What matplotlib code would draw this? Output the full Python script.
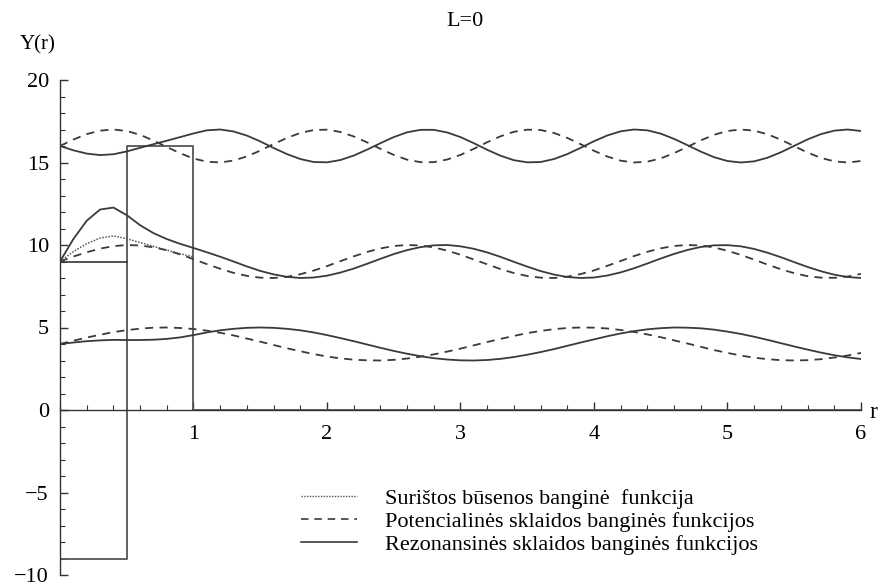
import numpy as np
import matplotlib.pyplot as plt
from matplotlib.ticker import MultipleLocator
from matplotlib.lines import Line2D

plt.rcParams['font.family'] = ['Liberation Serif', 'DejaVu Serif']

# r grid (step 0.1) and the read-off curves
r = np.round(np.arange(61) * 0.1, 1)
r_bound = r[:11]

# potential scattering (dashed)
pot_4 = [4.00, 4.20, 4.39, 4.56, 4.72, 4.84, 4.93, 4.99, 5.00, 4.97, 4.91,
         4.81, 4.68, 4.52, 4.33, 4.14, 3.94, 3.74, 3.56, 3.39, 3.24,
         3.13, 3.05, 3.01, 3.00, 3.04, 3.12, 3.23, 3.37, 3.54, 3.72,
         3.92, 4.12, 4.31, 4.49, 4.66, 4.79, 4.90, 4.97, 5.00, 4.99,
         4.94, 4.85, 4.73, 4.58, 4.41, 4.22, 4.03, 3.83, 3.63, 3.46,
         3.30, 3.17, 3.08, 3.02, 3.00, 3.02, 3.08, 3.18, 3.30, 3.46]
pot_9 = [9.00, 9.30, 9.56, 9.78, 9.93, 10.00, 9.97, 9.86, 9.68, 9.43, 9.14,
         8.84, 8.56, 8.31, 8.13, 8.02, 8.00, 8.07, 8.23, 8.45, 8.72,
         9.02, 9.31, 9.58, 9.79, 9.94, 10.00, 9.97, 9.85, 9.66, 9.41,
         9.12, 8.83, 8.54, 8.30, 8.12, 8.02, 8.00, 8.08, 8.24, 8.46,
         8.74, 9.03, 9.33, 9.59, 9.80, 9.94, 10.00, 9.97, 9.85, 9.65,
         9.40, 9.11, 8.81, 8.53, 8.29, 8.11, 8.02, 8.01, 8.09, 8.25]
pot_16 = [16.00, 16.39, 16.72, 16.93, 17.00, 16.91, 16.68, 16.33, 15.94, 15.56, 15.24,
          15.05, 15.00, 15.12, 15.37, 15.72, 16.12, 16.49, 16.79, 16.97, 16.99,
          16.85, 16.58, 16.22, 15.83, 15.46, 15.17, 15.02, 15.02, 15.18, 15.46,
          15.83, 16.23, 16.59, 16.86, 16.99, 16.97, 16.79, 16.49, 16.11, 15.71,
          15.36, 15.11, 15.00, 15.05, 15.25, 15.57, 15.95, 16.34, 16.68, 16.91,
          17.00, 16.93, 16.71, 16.38, 15.99, 15.60, 15.28, 15.07, 15.00, 15.09]

# resonance scattering (solid)
res_4 = [4.00, 4.09, 4.17, 4.22, 4.25, 4.24, 4.24, 4.26, 4.31, 4.40, 4.54,
         4.70, 4.83, 4.92, 4.98, 5.00, 4.98, 4.92, 4.83, 4.70, 4.54,
         4.36, 4.17, 3.97, 3.77, 3.58, 3.41, 3.26, 3.14, 3.06, 3.01,
         3.00, 3.03, 3.10, 3.21, 3.35, 3.51, 3.69, 3.89, 4.09, 4.28,
         4.47, 4.64, 4.78, 4.89, 4.96, 5.00, 4.99, 4.95, 4.87, 4.75,
         4.61, 4.44, 4.25, 4.05, 3.85, 3.66, 3.48, 3.32, 3.19, 3.09]
res_9 = [9.00, 10.36, 11.47, 12.15, 12.27, 11.81, 11.20, 10.72, 10.36, 10.07, 9.82,
         9.56, 9.29, 9.00, 8.70, 8.43, 8.22, 8.07, 8.00, 8.03, 8.14,
         8.33, 8.57, 8.86, 9.16, 9.45, 9.69, 9.87, 9.98, 10.00, 9.92,
         9.77, 9.55, 9.28, 8.98, 8.69, 8.42, 8.21, 8.06, 8.00, 8.03,
         8.15, 8.34, 8.59, 8.88, 9.18, 9.46, 9.70, 9.88, 9.98, 9.99,
         9.92, 9.76, 9.53, 9.26, 8.96, 8.67, 8.41, 8.20, 8.06, 8.00]
res_16 = [16.00, 15.74, 15.54, 15.45, 15.50, 15.67, 15.89, 16.11, 16.32, 16.54, 16.76,
          16.95, 17.00, 16.88, 16.63, 16.28, 15.88, 15.51, 15.21, 15.03, 15.01,
          15.15, 15.42, 15.78, 16.17, 16.54, 16.83, 16.98, 16.98, 16.82, 16.54,
          16.17, 15.77, 15.41, 15.14, 15.01, 15.03, 15.21, 15.51, 15.89, 16.29,
          16.64, 16.89, 17.00, 16.95, 16.75, 16.43, 16.05, 15.66, 15.32, 15.09,
          15.00, 15.07, 15.29, 15.62, 16.01, 16.40, 16.72, 16.93, 17.00, 16.91]

# bound state (dotted), only inside r <= 1
bound_9 = [9.00, 9.60, 10.08, 10.42, 10.55, 10.38, 10.15, 9.92, 9.70, 9.47, 9.28]

# potential shape and bound level
V_r = [0, 0.5, 0.5, 1, 1, 6]
V = [-9, -9, 16, 16, 0, 0]
level_r = [0, 0.5]
level = [9, 9]

labels = ['Surištos būsenos banginė  funkcija',
          'Potencialinės sklaidos banginės funkcijos',
          'Rezonansinės sklaidos banginės funkcijos']

fig = plt.figure(figsize=(8.95, 5.88), dpi=100)
ax = fig.add_axes([60 / 895, 13 / 588, 801 / 895, 495 / 588])

c = '#3a3a3a'
ax.plot(V_r, V, color='#555555', lw=1.3)
ax.plot(level_r, level, color='#333333', lw=1.2)

for y in (pot_4, pot_9, pot_16):
    ax.plot(r, y, color=c, lw=1.3, dashes=(4.5, 3.5))
for y in (res_4, res_9, res_16):
    ax.plot(r, y, color=c, lw=1.3)
ax.plot(r_bound, bound_9, color='#555555', lw=1.1, ls=(0, (1, 1)))

ax.set_xlim(0, 6)
ax.set_ylim(-10, 20)
ax.spines['top'].set_visible(False)
ax.spines['right'].set_visible(False)
ax.spines['bottom'].set_position(('data', 0))
for s in ('left', 'bottom'):
    ax.spines[s].set_color('#333333')
    ax.spines[s].set_linewidth(1.0)

ax.set_xticks([1, 2, 3, 4, 5, 6])
ax.xaxis.set_minor_locator(MultipleLocator(0.2))
ax.set_yticks([-10, -5, 0, 5, 10, 15, 20])
ax.yaxis.set_minor_locator(MultipleLocator(1))
ax.tick_params(which='both', direction='in', color='#333333', labelsize=16)
ax.tick_params(which='major', length=6, width=1)
ax.tick_params(which='minor', length=3.5, width=0.8)
ax.tick_params(axis='x', pad=11)
ax.tick_params(axis='y', pad=8)
ax.set_yticklabels(['\u221210', '\u22125', '0', '5', '10', '15', '20'])

fig.text(870 / 895, 1 - 412 / 588, 'r', fontsize=17, va='center', ha='left')
fig.text(38 / 895, 1 - 45 / 588, 'Y(r)', fontsize=15, va='center', ha='center')
fig.text(465 / 895, 1 - 22 / 588, 'L=0', fontsize=16, va='center', ha='center')

handles = [Line2D([], [], color='#555555', lw=1.0, ls=(0, (1, 1))),
           Line2D([], [], color=c, lw=1.2, dashes=(4.5, 3.5)),
           Line2D([], [], color=c, lw=1.2)]
ax.legend(handles, labels, loc='upper left', bbox_to_anchor=(281 / 895, 1 - 468 / 588),
          bbox_transform=fig.transFigure, frameon=False, fontsize=16,
          handlelength=2.5, handletextpad=1.3, labelspacing=0.12)

fig.savefig('out.png', dpi=100)
